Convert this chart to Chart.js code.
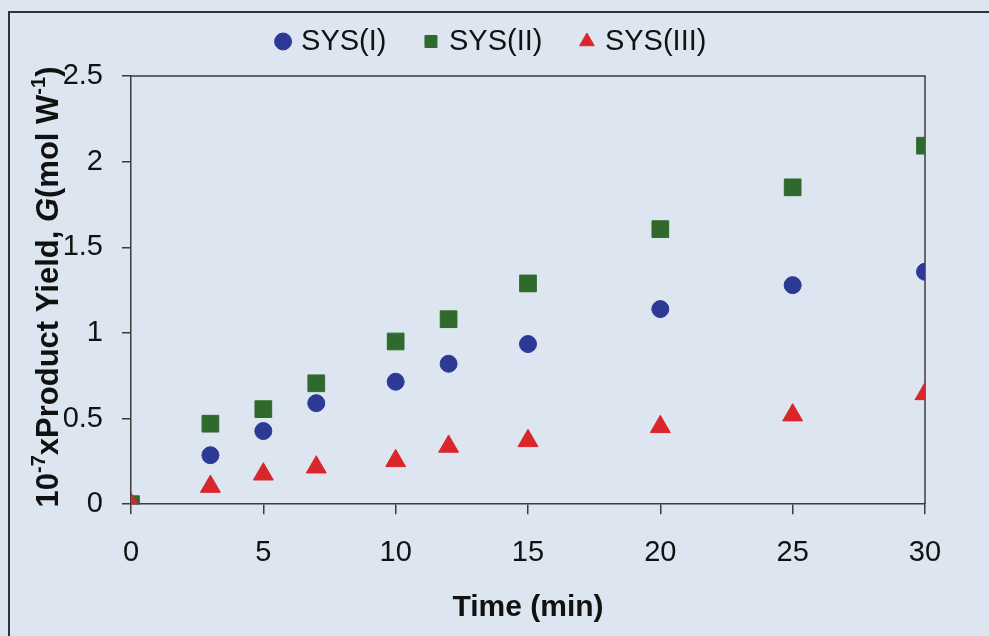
<!DOCTYPE html>
<html><head><meta charset="utf-8">
<script src="https://cdn.jsdelivr.net/npm/chart.js@4/dist/chart.umd.min.js"></script>
<style>html,body{margin:0;padding:0;background:#dde5f1;}canvas{display:block}</style>
</head><body>
<canvas id="c" width="989" height="636"></canvas>
<script>
// ---- data ----
const timeMin  = [0, 3, 5, 7, 10, 12, 15, 20, 25, 30];
const sysI     = [0, 0.286, 0.427, 0.59, 0.715, 0.82, 0.935, 1.139, 1.279, 1.357];
const sysII    = [0, 0.47, 0.555, 0.706, 0.95, 1.08, 1.289, 1.606, 1.85, 2.093];
const sysIII   = [0, 0.103, 0.175, 0.216, 0.253, 0.337, 0.37, 0.452, 0.52, 0.644];
const seriesNames = ['SYS(I)', 'SYS(II)', 'SYS(III)'];
const xTickLabels = ['0', '5', '10', '15', '20', '25', '30'];
const yTickLabels = ['0', '0.5', '1', '1.5', '2', '2.5'];
const xTitle = 'Time (min)';
const yTitleParts = [
  {t: '10'}, {t: '-7', sup: true}, {t: 'xProduct Yield, '}, {t: 'G', italic: true},
  {t: '(mol W'}, {t: '-1', sup: true}, {t: ')'}
];

const FONT = "'Liberation Sans', Arial, Helvetica, sans-serif";
const AXIS = '#3c3c3c';
const BG = '#dde5f1';

const pts = (ys) => timeMin.map((x, i) => ({x, y: ys[i]}));

const bgPlugin = {
  id: 'bg',
  beforeDraw(chart) {
    const {ctx, width, height} = chart;
    ctx.save();
    ctx.fillStyle = BG;
    ctx.fillRect(0, 0, width, height);
    ctx.strokeStyle = '#333';
    ctx.lineWidth = 2;
    ctx.beginPath();
    ctx.moveTo(width, 12); ctx.lineTo(9, 12); ctx.lineTo(9, height);
    ctx.stroke();
    ctx.restore();
  },
  beforeDatasetsDraw(chart) {
    const {ctx, chartArea: a} = chart;
    ctx.save();
    ctx.strokeStyle = AXIS;
    ctx.lineWidth = 1.5;
    ctx.beginPath();
    ctx.moveTo(a.left, a.top); ctx.lineTo(a.right, a.top); ctx.lineTo(a.right, a.bottom);
    ctx.stroke();
    ctx.restore();
  }
};

const yTitlePlugin = {
  id: 'ytitle',
  afterDraw(chart) {
    const {ctx} = chart;
    const size = 31, supSize = 20;
    const fontFor = (p) => (p.italic ? 'italic ' : '') + 'bold ' + (p.sup ? supSize : size) + 'px ' + FONT;
    ctx.save();
    let total = 0;
    yTitleParts.forEach(p => { ctx.font = fontFor(p); p.w = ctx.measureText(p.t).width; total += p.w; });
    const cx = 46, cy = 287;
    ctx.translate(cx, cy);
    ctx.rotate(-Math.PI / 2);
    ctx.fillStyle = '#111';
    ctx.textBaseline = 'alphabetic';
    let x = -total / 2;
    const base = 12;
    yTitleParts.forEach(p => {
      ctx.font = fontFor(p);
      ctx.fillText(p.t, x, p.sup ? base - 13 : base);
      x += p.w;
    });
    ctx.restore();
  }
};

new Chart(document.getElementById('c'), {
  type: 'scatter',
  data: {
    datasets: [
      {label: seriesNames[0], data: pts(sysI), pointStyle: 'circle', pointRadius: 8.5,
       backgroundColor: '#2c3a96', borderColor: '#2c3a96', pointBorderWidth: 1, order: 2},
      {label: seriesNames[1], data: pts(sysII), pointStyle: 'rect', pointRadius: 11.8,
       backgroundColor: '#2f6a2c', borderColor: '#2f6a2c', pointBorderWidth: 1, order: 1},
      {label: seriesNames[2], data: pts(sysIII), pointStyle: 'triangle', pointRadius: 11.5,
       backgroundColor: '#d9262b', borderColor: '#d9262b', pointBorderWidth: 1, order: 0}
    ]
  },
  options: {
    responsive: false,
    animation: false,
    devicePixelRatio: 1,
    layout: {padding: {top: -14, left: 61, right: 64, bottom: 5.5}},
    plugins: {
      tooltip: {enabled: false},
      legend: {
        position: 'top',
        labels: {
          usePointStyle: true, boxWidth: 7, boxHeight: 12, padding: 41,
          color: '#111', font: {family: FONT, size: 29},
          sort: (a, b) => a.datasetIndex - b.datasetIndex
        }
      },
      title: {display: true, text: '', weight: 500, padding: 0, font: {size: 10, lineHeight: 1}}
    },
    scales: {
      x: {
        type: 'linear', min: 0, max: 30,
        ticks: {stepSize: 5, padding: 21, color: '#111', font: {family: FONT, size: 29},
                callback: (v, i) => xTickLabels[i]},
        grid: {display: true, drawOnChartArea: false, drawTicks: true, tickLength: 10, color: AXIS, lineWidth: 1.5},
        border: {display: true, color: AXIS, width: 1.5},
        title: {display: true, text: xTitle, color: '#111',
                font: {family: FONT, size: 30, weight: 'bold', lineHeight: 1},
                padding: {top: 1.5, bottom: 8}}
      },
      y: {
        type: 'linear', min: 0, max: 2.5,
        afterFit: (scale) => { scale.width = 70; },
        ticks: {stepSize: 0.5, padding: 19, color: '#111', font: {family: FONT, size: 29},
                callback: (v, i) => yTickLabels[i]},
        grid: {display: true, drawOnChartArea: false, drawTicks: true, tickLength: 9, color: AXIS, lineWidth: 1.5},
        border: {display: true, color: AXIS, width: 1.5}
      }
    }
  },
  plugins: [bgPlugin, yTitlePlugin]
});
</script>
</body></html>
